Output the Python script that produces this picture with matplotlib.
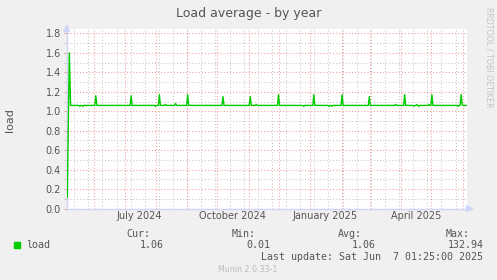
import matplotlib
matplotlib.use('Agg')
import numpy as np
import pandas as pd
import matplotlib.pyplot as plt
from matplotlib.patches import Polygon, Rectangle
from matplotlib.ticker import MultipleLocator

W, H = 497, 280

start_times = ['2024-05-05 06:00', '2024-05-07 06:00']
start_values = [0.12, 1.60]
baseline = 1.06
first_day, last_day = '2024-05-08', '2025-06-04'
spike_days = ['2024-06-02', '2024-07-07', '2024-08-04', '2024-09-01', '2024-10-06',
              '2024-11-02', '2024-11-30', '2025-01-04', '2025-02-01', '2025-02-28',
              '2025-04-04', '2025-05-01', '2025-05-30']
spike_values = [1.16, 1.16, 1.17, 1.17, 1.15, 1.15, 1.17, 1.17, 1.17, 1.15, 1.17, 1.17, 1.17]
small_days = ['2024-05-17', '2024-05-20', '2024-07-31', '2024-08-10', '2024-08-20',
              '2024-11-08', '2024-12-25', '2025-01-19', '2025-01-22', '2025-03-26',
              '2025-04-13', '2025-04-16', '2025-04-18', '2025-04-28', '2025-05-27', '2025-05-31']
small_values = [1.05, 1.05, 1.05, 1.07, 1.08, 1.07, 1.05, 1.05, 1.05, 1.07,
                1.05, 1.07, 1.05, 1.07, 1.05, 1.07]

x_labels = ['July 2024', 'October 2024', 'January 2025', 'April 2025']
x_label_dates = ['2024-07-16', '2024-10-16', '2025-01-16', '2025-04-16']

legend_stats = {'Cur:': '1.06', 'Min:': '0.01', 'Avg:': '1.06', 'Max:': '132.94'}
last_update = 'Last update: Sat Jun  7 01:25:00 2025'

# build the daily series
noon = pd.Timedelta(hours=12)
days = pd.date_range(first_day, last_day, freq='D') + noon
load = pd.Series(baseline, index=days)
for d, v in zip(spike_days + small_days, spike_values + small_values):
    load[pd.Timestamp(d) + noon] = v
times = list(pd.to_datetime(start_times)) + list(load.index)
values = start_values + list(load.values)

fg = '#555555'
axis_col = '#CFD6F8'
grid_col = '#C8C8C8'
mgrid_col = '#F29A9A'


def fx(x):
    return x / W


def fy(y):
    return 1 - y / H


fig = plt.figure(figsize=(W / 100, H / 100), dpi=100, facecolor='#F0F0F0')
left, right, top, bottom = 66.7, 467.3, 29.3, 208.7
ax = fig.add_axes([fx(left), fy(bottom), fx(right) - fx(left), (bottom - top) / H])
ax.set_facecolor('white')

ax.set_xlim(pd.Timestamp('2024-05-04 15:36'), pd.Timestamp('2025-06-05 14:00'))
ax.set_ylim(0, 1.8 * (bottom - top) / 175.4)

# grid
dots = (0, (1, 2))
for t in pd.date_range('2024-05-12', '2025-06-05', freq='14D'):
    ax.axvline(t, color=grid_col, lw=0.75, ls=dots, zorder=1)
for t in pd.date_range('2024-06-01', '2025-06-05', freq='MS'):
    ax.axvline(t, color=mgrid_col, lw=0.75, ls=dots, zorder=1)
for v in np.arange(1, 18, 2) / 10:
    ax.axhline(v, color=grid_col, lw=0.75, ls=dots, zorder=1)
for v in np.arange(2, 19, 2) / 10:
    ax.axhline(v, color=mgrid_col, lw=0.75, ls=dots, zorder=1)

ax.plot(times, values, color='#00CC00', lw=1.0, zorder=3)

ax.yaxis.set_minor_locator(MultipleLocator(0.1))
ax.set_yticks(np.arange(0, 19, 2) / 10)
ax.set_yticklabels(['%.1f' % v for v in np.arange(0, 19, 2) / 10])
ax.tick_params(axis='y', which='major', length=2.2, width=0.75, color=mgrid_col,
               labelsize=7, labelcolor=fg, pad=2)
ax.tick_params(axis='y', which='minor', length=2.2, width=0.75, color=grid_col)
ax.set_xticks(pd.to_datetime(x_label_dates))
ax.set_xticklabels(x_labels)
ax.tick_params(axis='x', length=0, labelsize=7, labelcolor=fg, pad=2)

for s in ['top', 'right']:
    ax.spines[s].set_visible(False)
for s in ['left', 'bottom']:
    ax.spines[s].set_color(axis_col)
    ax.spines[s].set_linewidth(1)

# arrows at the axis ends
fig.add_artist(Polygon([(fx(66.7), fy(25)), (fx(63.7), fy(31.5)), (fx(69.7), fy(31.5))],
                       closed=True, color=axis_col, transform=fig.transFigure))
fig.add_artist(Polygon([(fx(473), fy(208.7)), (fx(466.5), fy(205.7)), (fx(466.5), fy(211.7))],
                       closed=True, color=axis_col, transform=fig.transFigure))

fig.text(fx(248.5), fy(13), 'Load average - by year', ha='center', va='center',
         fontsize=9, color=fg)
fig.text(fx(10.5), fy(120), 'load', ha='center', va='center', rotation=90,
         fontsize=8, color=fg)
fig.text(fx(488.5), fy(57), 'RRDTOOL / TOBI OETIKER', ha='center', va='center',
         rotation=270, fontsize=5.7, color='#C4C4C4')

# legend block
mono = dict(family='DejaVu Sans Mono', fontsize=7.2, color=fg, va='center')
head_right = [150, 256, 362.3, 469.3]
val_right = [163.3, 270, 376, 483.3]
for (name, val), hx, vx in zip(legend_stats.items(), head_right, val_right):
    fig.text(fx(hx), fy(234), name, ha='right', **mono)
    fig.text(fx(vx), fy(245.3), val, ha='right', **mono)
fig.add_artist(Rectangle((fx(14), fy(247.5)), 6 / W, 6 / H, color='#00CC00',
                         transform=fig.transFigure))
fig.text(fx(26), fy(245.3), 'load', ha='left', **mono)
fig.text(fx(483.3), fy(257.3), last_update, ha='right', **mono)
fig.text(fx(248), fy(269.3), 'Munin 2.0.33-1', ha='center', va='center',
         fontsize=5.7, color='#BBBBBB')

fig.savefig('out.png', dpi=100, facecolor=fig.get_facecolor())
